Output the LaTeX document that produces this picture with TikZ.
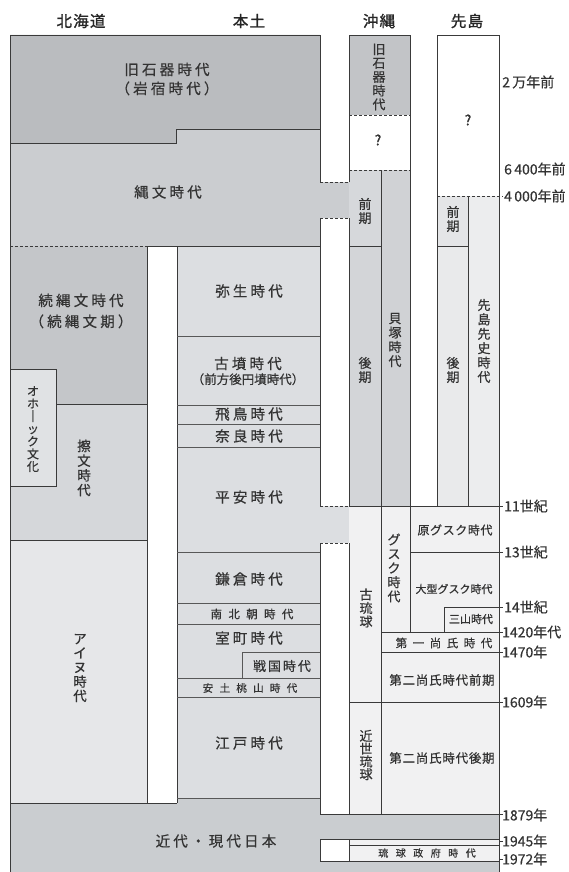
\documentclass[tikz,border=0pt]{standalone}
\usepackage{fontspec}
\newfontfamily\jp{Noto Sans CJK JP}[FakeBold=0.5]
\newfontfamily\jph{Noto Sans CJK JP}[FakeBold=1.4]
\definecolor{kyu}{HTML}{BABCBF}
\definecolor{jomon}{HTML}{CBCDD0}
\definecolor{zoku}{HTML}{C4C6C9}
\definecolor{satsu}{HTML}{D5D7DA}
\definecolor{okh}{HTML}{E0E2E4}
\definecolor{ainu}{HTML}{E6E7E9}
\definecolor{hondo}{HTML}{DCDEE1}
\definecolor{kindai}{HTML}{CACDD0}
\definecolor{okyu}{HTML}{C2C4C7}
\definecolor{ozen}{HTML}{D6D8DB}
\definecolor{oko}{HTML}{D3D5D8}
\definecolor{kai}{HTML}{D0D2D5}
\definecolor{szen}{HTML}{E4E5E7}
\definecolor{sko}{HTML}{E9EAEB}
\definecolor{ssen}{HTML}{ECEDEE}
\definecolor{ryu}{HTML}{F1F1F2}
\definecolor{ln}{HTML}{3A3A3A}
\definecolor{txt}{HTML}{333333}
\tikzset{
  bd/.style={draw=ln, line width=0.9pt},
  thn/.style={draw=ln!85, line width=0.75pt},
  dsh/.style={draw=ln, line width=0.9pt, dash pattern=on 3pt off 2pt},
  lab/.style={inner sep=0pt, text=txt, align=center, font=\jp\fontsize{14.5}{19}\selectfont\addfontfeature{LetterSpace=22}},
  lab2/.style={inner sep=0pt, text=txt, align=center, font=\jp\fontsize{14.5}{21}\selectfont\addfontfeature{LetterSpace=22}},
  vlab/.style={inner sep=0pt, text=txt, align=center, font=\jp\fontsize{13}{14}\selectfont},
  sml/.style={inner sep=0pt, text=txt, align=center, font=\jp\fontsize{12}{12}\selectfont},
  rl/.style={anchor=west, inner sep=0pt, text=txt, font=\jp\fontsize{14}{14}\selectfont},
  hd/.style={inner sep=0pt, text=black!85, font=\jph\fontsize{15.5}{15.5}\selectfont\addfontfeature{LetterSpace=8}},
}
\begin{document}
\begin{tikzpicture}[x=1pt,y=-1pt]
\useasboundingbox (0,0) rectangle (568,872);
% ---------- fills ----------
\fill[kindai] (10,780) rectangle (499,872);
\fill[kyu] (10,35) -- (320,35) -- (320,129) -- (176,129) -- (176,143) -- (10,143) -- cycle;
\fill[jomon] (10,143) -- (176,143) -- (176,129) -- (320,129) -- (320,182) -- (349,182) -- (349,218) -- (320,218) -- (320,246) -- (10,246) -- cycle;
\fill[zoku] (10,246) rectangle (147,404);
\fill[satsu] (10,404) rectangle (147,540);
\fill[okh] (10,369) rectangle (56,486);
\fill[ainu] (10,540) rectangle (147,803);
\fill[white] (147,246) rectangle (177,803);
\fill[hondo] (177,246) rectangle (320,798);
\fill[hondo] (320,506) rectangle (349,543);
\fill[white] (320,543) rectangle (349,814);
\fill[okyu] (349,35) rectangle (410,115);
\fill[ozen] (349,170) rectangle (381,246);
\fill[oko] (349,246) rectangle (381,506);
\fill[kai] (381,170) rectangle (410,506);
\fill[szen] (437,196) rectangle (468,246);
\fill[sko] (437,246) rectangle (468,506);
\fill[ssen] (468,196) rectangle (499,506);
\fill[ryu] (349,506) rectangle (499,814);
\fill[ryu] (349,839) rectangle (499,861);
\fill[white] (320,839) rectangle (349,861);
% ---------- outer and main borders ----------
\draw[bd] (10,872) -- (10,35) -- (320,35) -- (320,182);
\draw[bd] (349,182) -- (349,35) -- (410,35) -- (410,632);
\draw[bd] (437,506) -- (437,35) -- (499,35) -- (499,872);
\draw[bd] (10,143) -- (176,143) -- (176,129) -- (320,129);
\draw[dsh] (320,182) -- (349,182);
\draw[dsh] (320,218) -- (349,218);
\draw[bd] (320,218) -- (320,506);
\draw[bd] (349,218) -- (349,506);
\draw[dsh] (10,246) -- (147,246);
\draw[bd] (147,246) -- (320,246);
\draw[bd] (147,246) -- (147,803);
\draw[bd] (177,246) -- (177,803);
\draw[bd] (10,803) -- (177,803);
% Hokkaido
\draw[bd] (10,369) -- (56,369) -- (56,486) -- (10,486);
\draw[bd] (56,404) -- (147,404);
\draw[bd] (10,540) -- (147,540);
% Hondo
\foreach \yy in {336,405,424,447,552,603,624,678,697,798}
  \draw[thn] (177,\yy) -- (320,\yy);
\draw[thn] (242,678) -- (242,652) -- (320,652);
% Okinawa / Sakishima
\draw[dsh] (320,506) -- (349,506);
\draw[bd] (349,506) -- (499,506);
\draw[dsh] (320,543) -- (349,543);
\draw[bd] (320,543) -- (320,814) -- (499,814);
\draw[bd] (349,543) -- (349,814);
\draw[dsh] (349,115) -- (410,115);
\draw[dsh] (349,170) -- (410,170);
\draw[bd] (381,170) -- (381,814);
\draw[bd] (349,246) -- (381,246);
\draw[dsh] (437,196) -- (503,196);
\draw[bd] (468,196) -- (468,506);
\draw[bd] (437,246) -- (468,246);
\draw[bd] (410,552) -- (499,552);
\draw[bd] (444,632) -- (444,607) -- (499,607);
\draw[bd] (381,632) -- (499,632);
\draw[bd] (381,652) -- (499,652);
\draw[bd] (349,702) -- (499,702);
\draw[bd] (320,839) rectangle (349,861);
\draw[bd] (349,839) -- (499,839);
\draw[bd] (349,845) -- (499,845);
\draw[bd] (349,861) -- (499,861);
\foreach \yy in {506,552,607,632,652,702,814,841,859}
  \draw[bd] (499,\yy) -- (503,\yy);
% ---------- headers ----------
\node[hd] (hHok) at (81,21) {北海道};
\node[hd] (hHon) at (249,21) {本土};
\node[hd] (hOki) at (379,21) {沖縄};
\node[hd] (hSak) at (467,21) {先島};
% ---------- Hokkaido / Hondo labels ----------
\node[lab] (tKyu) at (167,79) {旧石器時代\\（岩宿時代）};
\node[lab] (tJom) at (168,192) {縄文時代};
\node[lab2] (tZok) at (81,311) {続縄文時代\\（続縄文期）};
\node[vlab, font=\jp\fontsize{12}{12.6}\selectfont] (tOkh) at (33,429) {オ\\ホ\\｜\\ッ\\ク\\文\\化};
\node[vlab, font=\jp\fontsize{13.5}{14.7}\selectfont] (tSat) at (84,468) {擦\\文\\時\\代};
\node[vlab, font=\jp\fontsize{13.5}{14.3}\selectfont] (tAin) at (80,668) {ア\\イ\\ヌ\\時\\代};
\node[lab] (tYay) at (249,291) {弥生時代};
\node[inner sep=0pt, text=txt, align=center] (tKof) at (248,371) {{\jp\fontsize{14.5}{14.5}\selectfont\addfontfeature{LetterSpace=22}古墳時代}\\[3pt]{\jp\fontsize{12.5}{12.5}\selectfont（前方後円墳時代）}};
\node[lab] (tAsu) at (249,414) {飛鳥時代};
\node[lab] (tNar) at (249,436) {奈良時代};
\node[lab] (tHei) at (249,497) {平安時代};
\node[lab] (tKam) at (249,579) {鎌倉時代};
\node[inner sep=0pt, text=txt, font=\jp\fontsize{11.5}{11.5}\selectfont\addfontfeature{LetterSpace=55}] (tNan) at (252,614) {南北朝時代};
\node[lab] (tMur) at (249,638) {室町時代};
\node[inner sep=0pt, text=txt, font=\jp\fontsize{13}{13}\selectfont\addfontfeature{LetterSpace=15}] (tSen) at (282,666) {戦国時代};
\node[inner sep=0pt, text=txt, font=\jp\fontsize{10.5}{10.5}\selectfont\addfontfeature{LetterSpace=60}] (tAzu) at (250,688) {安土桃山時代};
\node[lab] (tEdo) at (249,743) {江戸時代};
\node[lab] (tKin) at (216,841) {近代・現代日本};
% ---------- Okinawa / Sakishima labels ----------
\node[vlab, font=\jp\fontsize{13}{13.8}\selectfont] (tOkyu) at (379,77) {旧\\石\\器\\時\\代};
\node[sml, font=\jph\fontsize{14}{14}\selectfont] (tQ1) at (378,140) {?};
\node[sml, font=\jph\fontsize{14}{14}\selectfont] (tQ2) at (468,120) {?};
\node[vlab] (tOzen) at (365,211) {前\\期};
\node[vlab] (tSzen) at (453,219) {前\\期};
\node[vlab] (tOko) at (365,370) {後\\期};
\node[vlab, font=\jp\fontsize{13}{14.3}\selectfont] (tKai) at (395,340) {貝\\塚\\時\\代};
\node[vlab] (tSko) at (453,370) {後\\期};
\node[vlab, font=\jp\fontsize{13}{14.4}\selectfont] (tSsen) at (484,341) {先\\島\\先\\史\\時\\代};
\node[sml, font=\jp\fontsize{12}{12}\selectfont\addfontfeature{LetterSpace=5}] (tGen) at (455,530) {原グスク時代};
\node[vlab, font=\jp\fontsize{13}{14.2}\selectfont] (tGus) at (394,568) {グ\\ス\\ク\\時\\代};
\node[sml, font=\jp\fontsize{11}{11}\selectfont] (tOgu) at (454,589) {大型グスク時代};
\node[sml, font=\jp\fontsize{11}{11}\selectfont] (tSan) at (471,619) {三山時代};
\node[sml, font=\jp\fontsize{11.5}{11.5}\selectfont\addfontfeature{LetterSpace=48}] (tSho1) at (444,643) {第一尚氏時代};
\node[sml, font=\jp\fontsize{12.5}{12.5}\selectfont\addfontfeature{LetterSpace=6}] (tSho2a) at (442,680) {第二尚氏時代前期};
\node[vlab, font=\jp\fontsize{13}{13.5}\selectfont] (tKor) at (366,608) {古\\琉\\球};
\node[vlab, font=\jp\fontsize{13}{12.8}\selectfont] (tKins) at (366,755) {近\\世\\琉\\球};
\node[sml, font=\jp\fontsize{12.5}{12.5}\selectfont\addfontfeature{LetterSpace=6}] (tSho2b) at (442,758) {第二尚氏時代後期};
\node[sml, font=\jp\fontsize{10}{10}\selectfont\addfontfeature{LetterSpace=75}] (tRyu) at (427,853) {琉球政府時代};
% ---------- right labels ----------
\node[rl] (r1) at (502,82) {2\,万年前};
\node[rl] (r2) at (504,169) {6\,400年前};
\node[rl] (r3) at (504,196) {4\,000年前};
\node[rl] (r4) at (504,506) {11世紀};
\node[rl] (r5) at (504,552) {13世紀};
\node[rl] (r6) at (504,607) {14世紀};
\node[rl] (r7) at (502,632) {1420年代};
\node[rl] (r8) at (502,652) {1470年};
\node[rl] (r9) at (502,702) {1609年};
\node[rl] (r10) at (502,815) {1879年};
\node[rl] (r11) at (502,841) {1945年};
\node[rl] (r12) at (502,859) {1972年};
\end{tikzpicture}
\end{document}
